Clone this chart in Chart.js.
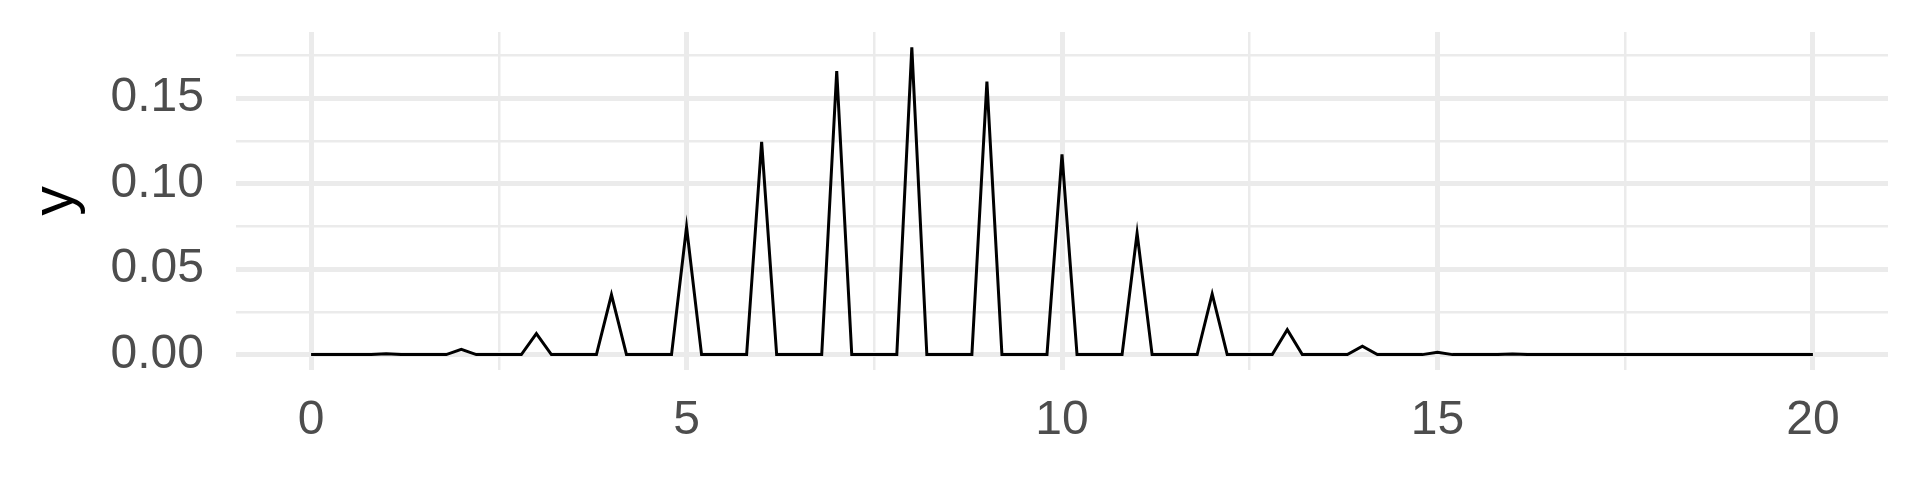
<!DOCTYPE html>
<html>
<head>
<meta charset="utf-8">
<script src="https://cdn.jsdelivr.net/npm/chart.js@4/dist/chart.umd.min.js"></script>
<style>
    html, body { margin: 0; padding: 0; background: #ffffff; }
    #wrap { width: 1920px; height: 480px; }
</style>
</head>
<body>
<div id="wrap"><canvas id="lineChart" width="1920" height="480"></canvas></div>
<script>
// --- date ---
const kValues = [0, 1, 2, 3, 4, 5, 6, 7, 8, 9, 10, 11, 12, 13, 14, 15, 16, 17, 18, 19, 20];
const probValues = [0.0000, 0.0005, 0.0031, 0.0123, 0.0350, 0.0746, 0.1244, 0.1659, 0.1797, 0.1597,
    0.1171, 0.0710, 0.0355, 0.0146, 0.0049, 0.0013, 0.0003, 0.0000, 0.0000, 0.0000, 0.0000];
const xTickLabels = ['0', '5', '10', '15', '20'];
const yTickLabels = ['0.00', '0.05', '0.10', '0.15'];
const yTitle = 'y';

// grila are pas 0.2, deci fiecare varf coboara la zero la k-0.2 si k+0.2
const halfWidth = 0.2;

document.addEventListener('DOMContentLoaded', function () {

    const points = [];
    kValues.forEach((k, i) => {
        if (k > kValues[0]) points.push({ x: k - halfWidth, y: 0 });
        points.push({ x: k, y: probValues[i] });
        if (k < kValues[kValues.length - 1]) points.push({ x: k + halfWidth, y: 0 });
    });

    const gridColor = '#EBEBEB';
    const textColor = '#4D4D4D';

    const ctx = document.getElementById('lineChart').getContext('2d');

    new Chart(ctx, {
        type: 'line',
        data: {
            datasets: [{
                data: points,
                borderColor: '#000000',
                borderWidth: 3,
                pointRadius: 0,
                tension: 0,
                fill: false
            }]
        },
        options: {
            responsive: false,
            animation: false,
            layout: { padding: { top: 32, right: 32, bottom: 0, left: 0 } },
            plugins: {
                legend: { display: false },
                tooltip: { enabled: false }
            },
            scales: {
                x: {
                    type: 'linear',
                    min: -1,
                    max: 21,
                    border: { display: false },
                    grid: {
                        color: gridColor,
                        drawTicks: false,
                        // liniile majore (la 5) mai groase decat cele minore
                        lineWidth: c => (Math.round(c.tick.value * 10) % 50 === 0 ? 5 : 2.5)
                    },
                    ticks: {
                        stepSize: 2.5,
                        includeBounds: false,
                        autoSkip: false,
                        maxRotation: 0,
                        padding: 22,
                        color: textColor,
                        font: { family: 'Liberation Sans', size: 48 },
                        callback: v => {
                            const lbl = String(Math.round(v * 10) / 10);
                            return xTickLabels.includes(lbl) ? lbl : '';
                        }
                    },
                    afterFit: s => {
                        s.height = 110;
                        s.paddingLeft = 0;
                        s.paddingRight = 0;
                    }
                },
                y: {
                    type: 'linear',
                    min: -0.009,
                    max: 0.1887,
                    border: { display: false },
                    grid: {
                        color: gridColor,
                        drawTicks: false,
                        lineWidth: c => (Math.round(c.tick.value * 1000) % 50 === 0 ? 5 : 2.5)
                    },
                    ticks: {
                        stepSize: 0.025,
                        includeBounds: false,
                        autoSkip: false,
                        padding: 32,
                        color: textColor,
                        font: { family: 'Liberation Sans', size: 48 },
                        callback: v => {
                            const lbl = v.toFixed(2);
                            return (Math.round(v * 1000) % 50 === 0 && yTickLabels.includes(lbl)) ? lbl : '';
                        }
                    },
                    title: {
                        display: true,
                        text: yTitle,
                        color: '#000000',
                        padding: { top: 21, bottom: 0 },
                        font: { family: 'Liberation Sans', size: 59 }
                    },
                    afterFit: s => {
                        s.width = 236;
                        s.paddingTop = 0;
                        s.paddingBottom = 0;
                    }
                }
            }
        }
    });
});
</script>
</body>
</html>
